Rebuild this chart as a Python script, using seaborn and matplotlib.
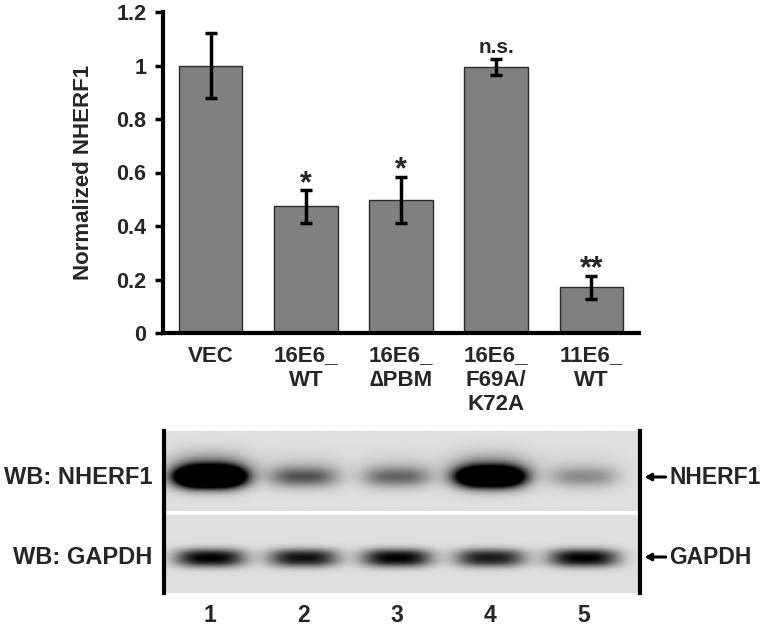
import numpy as np
import matplotlib
matplotlib.use('Agg')
import matplotlib.pyplot as plt
import seaborn as sns

categories = ['VEC', '16E6_\nWT', '16E6_\n\u2206PBM', '16E6_\nF69A/\nK72A', '11E6_\nWT']
values = [1.0, 0.473, 0.497, 0.993, 0.171]
errors = [0.122, 0.06, 0.085, 0.03, 0.043]
marks = ['', '*', '*', 'n.s.', '**']
y_ticks = [0, 0.2, 0.4, 0.6, 0.8, 1.0, 1.2]
y_ticklabels = ['0', '0.2', '0.4', '0.6', '0.8', '1', '1.2']

lanes = [1, 2, 3, 4, 5]
lane_labels = ['1', '2', '3', '4', '5']
nherf1_band = [2.6, 0.55, 0.48, 2.1, 0.33]
gapdh_band = [1.0, 0.92, 1.0, 0.88, 1.0]

sns.set_style('white')
plt.rcParams['font.family'] = ['Liberation Sans', 'DejaVu Sans']
plt.rcParams['font.weight'] = 'bold'

fig = plt.figure(figsize=(7.66, 6.29), dpi=100)

# bar chart
ax = fig.add_axes([163/766, 1-333/629, 476/766, 321/629])
sns.barplot(x=categories, y=values, color='#808080', saturation=1, width=0.67,
            edgecolor='#2b2b2b', linewidth=1, ax=ax)
ax.errorbar(range(len(values)), values, yerr=errors, fmt='none', ecolor='black',
            elinewidth=2.5, capsize=4, capthick=2.5)
for i, (v, e, m) in enumerate(zip(values, errors, marks)):
    if m:
        off = 2 if m == 'n.s.' else -6
        ax.annotate(m, (i, v + e), xytext=(0, off), textcoords='offset points',
                    ha='center', va='bottom', fontsize=15 if m == 'n.s.' else 22,
                    fontweight='bold')
ax.set_xlim(-0.5, len(values) - 0.5)
ax.set_ylim(0, 1.2)
ax.set_yticks(y_ticks)
ax.set_yticklabels(y_ticklabels, fontsize=15.5, fontweight='bold')
ax.set_xticks(range(len(categories)))
ax.set_xticklabels(categories, fontsize=16, fontweight='bold', linespacing=1.2)
ax.set_xticks(np.arange(-0.5, len(categories)), minor=True)
ax.tick_params(axis='x', which='major', length=0, pad=9)
ax.tick_params(axis='x', which='minor', length=6, width=2.5, direction='out', color='black')
ax.tick_params(axis='y', length=6, width=2.5, direction='out', color='black', pad=6, left=True)
ax.set_ylabel('Normalized NHERF1', fontsize=16, fontweight='bold', labelpad=16)
ax.set_xlabel('')
for s in ['top', 'right']:
    ax.spines[s].set_visible(False)
for s in ['left', 'bottom']:
    ax.spines[s].set_linewidth(3)
    ax.spines[s].set_color('black')

# western blot panel
bx = fig.add_axes([164/766, 1-593/629, 476/766, 162/629])
xs = np.linspace(0.51, 5.6, 600)
ys = np.linspace(0, 162, 400)
X, Y = np.meshgrid(xs, ys)
dark = np.zeros_like(X)
for lane, a, b in zip(lanes, nherf1_band, gapdh_band):
    px = np.exp(-np.abs((X - lane) / 0.36) ** 3)
    dark += a * px * np.exp(-((Y - 46) / 10) ** 2)
    dark += 0.2 * a * np.exp(-np.abs((X - lane) / 0.42) ** 2.5) * np.exp(-((Y - 38) / 16) ** 2)
    dark += b * np.exp(-np.abs((X - lane) / 0.37) ** 3) * np.exp(-np.abs((Y - 127) / 9) ** 2.5)
img = 0.875 * (1 - np.clip(dark, 0, 1))
bx.imshow(img, cmap='gray', vmin=0, vmax=1, extent=(0.51, 5.6, 162, 0),
          aspect='auto', interpolation='bilinear')
bx.axhspan(80, 84, color='white', lw=0)
bx.set_xlim(0.51, 5.6)
bx.set_ylim(162, 0)
bx.set_xticks(lanes)
bx.set_xticklabels(lane_labels, fontsize=16.5, fontweight='bold')
bx.tick_params(axis='x', length=0, pad=8)
bx.set_yticks([])
for s in ['top', 'bottom']:
    bx.spines[s].set_visible(False)
for s in ['left', 'right']:
    bx.spines[s].set_linewidth(3)
    bx.spines[s].set_color('black')
tr = bx.get_yaxis_transform()
bx.text(-0.025, 46, 'WB: NHERF1', transform=tr, ha='right', va='center',
        fontsize=17, fontweight='bold')
bx.text(-0.025, 126, 'WB: GAPDH', transform=tr, ha='right', va='center',
        fontsize=17, fontweight='bold')
for yb, name in [(46, 'NHERF1'), (126, 'GAPDH')]:
    bx.annotate('', xy=(1.010, yb), xytext=(1.054, yb), xycoords=tr, textcoords=tr,
                arrowprops=dict(arrowstyle='-|>,head_length=0.35,head_width=0.2',
                                color='black', lw=2.2, shrinkA=0, shrinkB=0))
    bx.text(1.062, yb, name, transform=tr, ha='left', va='center',
            fontsize=16.5, fontweight='bold')

fig.savefig('out.png', dpi=100)
